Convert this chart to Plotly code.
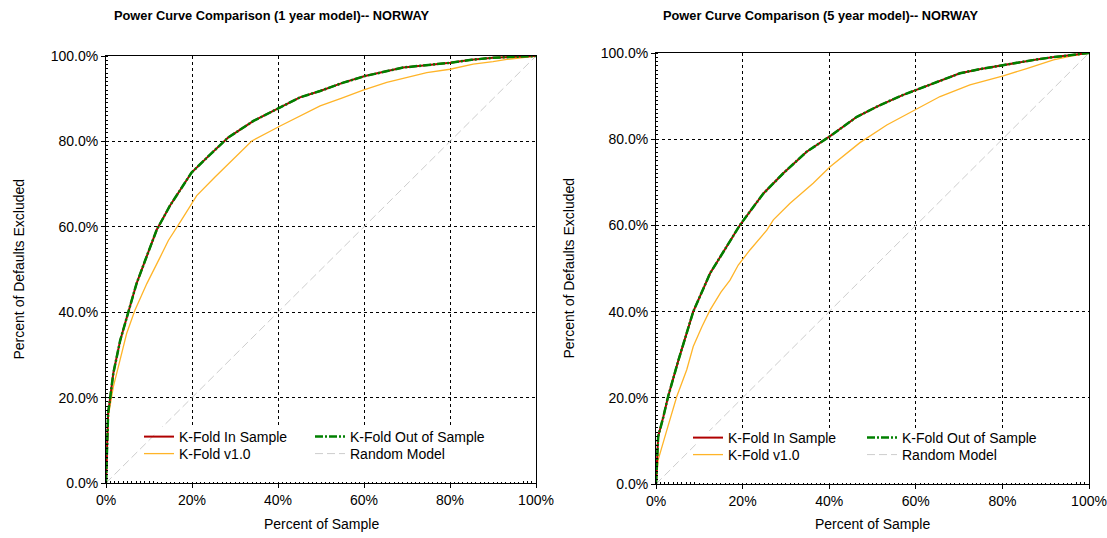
import plotly.graph_objects as go

# ---- 1 year model (percent of sample -> percent of defaults excluded) ----
kf1_x = [0, 0.2, 0.5, 0.9, 1.7, 3.3, 5.2, 7.1, 9.1, 10.6, 11.8, 14.9, 17.5, 19.9, 24.2,
         28.4, 34.3, 40.5, 45.1, 49.8, 55.0, 60.2, 65.0, 69.1, 75.0, 80.0, 85.0, 90.0, 95.0, 100]
kf1_in_y = [0, 10.0, 16.5, 19.4, 25.7, 33.4, 40.0, 46.7, 52.1, 56.3, 59.3, 65.0, 69.0, 72.7, 76.9,
            80.9, 84.8, 87.9, 90.3, 91.8, 93.7, 95.3, 96.3, 97.3, 97.9, 98.4, 99.1, 99.6, 99.8, 100]
kf1_out_y = [0, 10.0, 16.5, 19.4, 25.7, 33.4, 40.0, 46.7, 52.1, 56.3, 59.3, 65.0, 69.0, 72.7, 76.9,
             80.9, 84.8, 87.9, 90.3, 91.8, 93.7, 95.3, 96.3, 97.3, 97.9, 98.4, 99.1, 99.6, 99.8, 100]
v1_1_x = [0, 0.15, 0.5, 1.7, 3.3, 4.8, 6.7, 9.5, 12.6, 14.5, 17.5, 21.1, 25.3, 29.6, 33.9,
          40.5, 45.1, 49.8, 55.0, 59.8, 65.3, 70.0, 74.6, 80.0, 85.4, 90.0, 93.2, 100]
v1_1_y = [0, 6.9, 15.5, 22.5, 28.7, 35.0, 40.4, 46.7, 52.9, 56.8, 61.5, 67.3, 71.6, 75.9, 80.1,
          83.6, 86.0, 88.3, 90.2, 92.0, 93.8, 95.0, 96.1, 96.9, 98.1, 98.7, 99.2, 100]

# ---- 5 year model ----
kf5_x = [0, 0.15, 0.5, 1.7, 2.8, 5.2, 8.6, 12.5, 15.6, 19.4, 24.8, 29.4, 34.8, 40.2, 46.4,
         51.5, 57.1, 60.0, 65.0, 70.2, 75.0, 80.2, 85.0, 87.9, 91.5, 95.6, 100]
kf5_in_y = [0, 4.8, 11.0, 15.6, 20.3, 28.8, 40.0, 48.9, 54.0, 60.1, 67.4, 72.1, 77.1, 80.7, 85.2,
            87.8, 90.3, 91.4, 93.3, 95.3, 96.3, 97.2, 98.1, 98.5, 99.0, 99.5, 100]
kf5_out_y = [0, 4.8, 11.0, 15.6, 20.3, 28.8, 40.0, 48.9, 54.0, 60.1, 67.4, 72.1, 77.1, 80.7, 85.2,
             87.8, 90.3, 91.4, 93.3, 95.3, 96.3, 97.2, 98.1, 98.5, 99.0, 99.5, 100]
v1_5_x = [0, 0.5, 2.5, 4.8, 7.1, 8.6, 10.6, 12.5, 15.0, 17.1, 19.0, 21.7, 25.6, 27.1, 30.9,
          36.3, 40.2, 47.1, 53.3, 59.8, 65.6, 72.5, 80.2, 85.6, 91.8, 95.5, 100]
v1_5_y = [0, 5.6, 12.5, 20.3, 26.5, 31.9, 36.5, 40.4, 44.5, 47.3, 50.8, 54.3, 58.9, 61.3, 65.1,
          69.8, 73.6, 79.2, 83.3, 86.8, 89.9, 92.6, 94.7, 96.4, 98.4, 99.2, 100]

random_x = [0, 100]
random_y = [0, 100]

titles = ["Power Curve Comparison (1 year model)-- NORWAY",
          "Power Curve Comparison (5 year model)-- NORWAY"]
x_title = "Percent of Sample"
y_title = "Percent of Defaults Excluded"
x_tickvals = [0, 20, 40, 60, 80, 100]
x_ticklabels = ["0%", "20%", "40%", "60%", "80%", "100%"]
y_tickvals = [0, 20, 40, 60, 80, 100]
y_ticklabels = ["0.0%", "20.0%", "40.0%", "60.0%", "80.0%", "100.0%"]

FONT = "Liberation Sans, Arial, sans-serif"
RED = "#B00000"
GREEN = "#008000"
ORANGE = "#FFB428"
GREY = "#CDCDCD"

W, H = 1107, 538
# plot boxes in pixels: (left, right, top, bottom)
boxes = [(106, 536, 56, 483), (656, 1089, 53, 484)]
# legend anchor per panel: (column 1 x, column 2 x, row 1 y, row 2 y)
legend_grid = [(139, 310, 437, 454), (688, 862, 438, 455)]

fig = go.Figure()

panels = [
    (kf1_x, kf1_in_y, kf1_out_y, v1_1_x, v1_1_y),
    (kf5_x, kf5_in_y, kf5_out_y, v1_5_x, v1_5_y),
]

legend_style = dict(bgcolor="rgba(0,0,0,0)", borderwidth=0, orientation="v", xanchor="left",
                    yanchor="middle", itemwidth=30,
                    font=dict(family=FONT, size=14, color="black"))
legend_layouts = {}
n_leg = 0


def new_legend(px, py):
    """Create a one-entry legend box placed at pixel position (px, py)."""
    global n_leg
    n_leg += 1
    name = "legend" if n_leg == 1 else f"legend{n_leg}"
    d = dict(legend_style)
    d.update(x=px / W, y=(H - py) / H)
    legend_layouts[name] = d
    return name


for i, (kx, kin, kout, vx, vy) in enumerate(panels):
    xa = "x" if i == 0 else "x2"
    ya = "y" if i == 0 else "y2"
    c1, c2, r1, r2 = legend_grid[i]
    fig.add_trace(go.Scatter(x=random_x, y=random_y, mode="lines", name="Random Model",
                             line=dict(color=GREY, width=1, dash="8px,4px"),
                             xaxis=xa, yaxis=ya, legend=new_legend(c2, r2)))
    fig.add_trace(go.Scatter(x=vx, y=vy, mode="lines", name="K-Fold v1.0",
                             line=dict(color=ORANGE, width=1.3),
                             xaxis=xa, yaxis=ya, legend=new_legend(c1, r2)))
    fig.add_trace(go.Scatter(x=kx, y=kin, mode="lines", name="K-Fold In Sample",
                             line=dict(color=RED, width=2),
                             xaxis=xa, yaxis=ya, legend=new_legend(c1, r1)))
    fig.add_trace(go.Scatter(x=kx, y=kout, mode="lines", name="K-Fold Out of Sample",
                             line=dict(color=GREEN, width=2.5, dash="8px,2px,2px,2px"),
                             xaxis=xa, yaxis=ya, legend=new_legend(c2, r1)))

fig.update_layout(**legend_layouts)


def axis_common():
    return dict(
        range=[0, 100], showgrid=True, gridcolor="black", griddash="dot",
        gridwidth=1, showline=True, linecolor="black", linewidth=1, mirror=True,
        ticks="outside", ticklen=4, tickcolor="black", zeroline=False, automargin=False,
        tickfont=dict(family=FONT, size=14, color="black"),
        minor=dict(dtick=1, ticks="inside", ticklen=2, tickcolor="black", showgrid=False),
        fixedrange=True,
    )


layout_axes = {}
for i, (l, r, t, b) in enumerate(boxes):
    sfx = "" if i == 0 else "2"
    xd = [l / W, r / W]
    yd = [(H - b) / H, (H - t) / H]
    xa = axis_common()
    xa.update(domain=xd, anchor="y" + sfx, tickvals=x_tickvals, ticktext=x_ticklabels)
    ya = axis_common()
    ya.update(domain=yd, anchor="x" + sfx, tickvals=y_tickvals, ticktext=y_ticklabels)
    layout_axes["xaxis" + sfx] = xa
    layout_axes["yaxis" + sfx] = ya

fig.update_layout(**layout_axes)

# white panel behind each legend block (covers grid and diagonal there)
legend_panels = [(155, 427, 522, 482), (697, 431, 1076, 483)]
shapes = [dict(type="rect", xref="paper", yref="paper", layer="above",
               x0=x0 / W, x1=x1 / W, y0=(H - y1) / H, y1=(H - y0) / H,
               fillcolor="white", line=dict(width=0))
          for (x0, y0, x1, y1) in legend_panels]

annotations = []
title_x = [112, 661]
for i, (l, r, t, b) in enumerate(boxes):
    annotations.append(dict(text="<b>" + titles[i] + "</b>", x=title_x[i] / W, y=(H - 15) / H,
                            xref="paper", yref="paper", xanchor="left", yanchor="middle",
                            showarrow=False, font=dict(family=FONT, size=12.8, color="black")))
    annotations.append(dict(text=x_title, x=(l + r) / 2 / W, y=(H - 524) / H,
                            xref="paper", yref="paper", xanchor="center", yanchor="middle",
                            showarrow=False, font=dict(family=FONT, size=14, color="black")))
    annotations.append(dict(text=y_title, x=(l - 88) / W, y=(H - (t + b) / 2) / H,
                            xref="paper", yref="paper", xanchor="center", yanchor="middle",
                            textangle=-90, showarrow=False,
                            font=dict(family=FONT, size=14, color="black")))

fig.update_layout(
    width=W, height=H, margin=dict(l=0, r=0, t=0, b=0, pad=0, autoexpand=False),
    paper_bgcolor="white", plot_bgcolor="white",
    showlegend=True, annotations=annotations, shapes=shapes,
    font=dict(family=FONT, size=14, color="black"),
)

fig.write_html("out.html", config={"displayModeBar": False})
